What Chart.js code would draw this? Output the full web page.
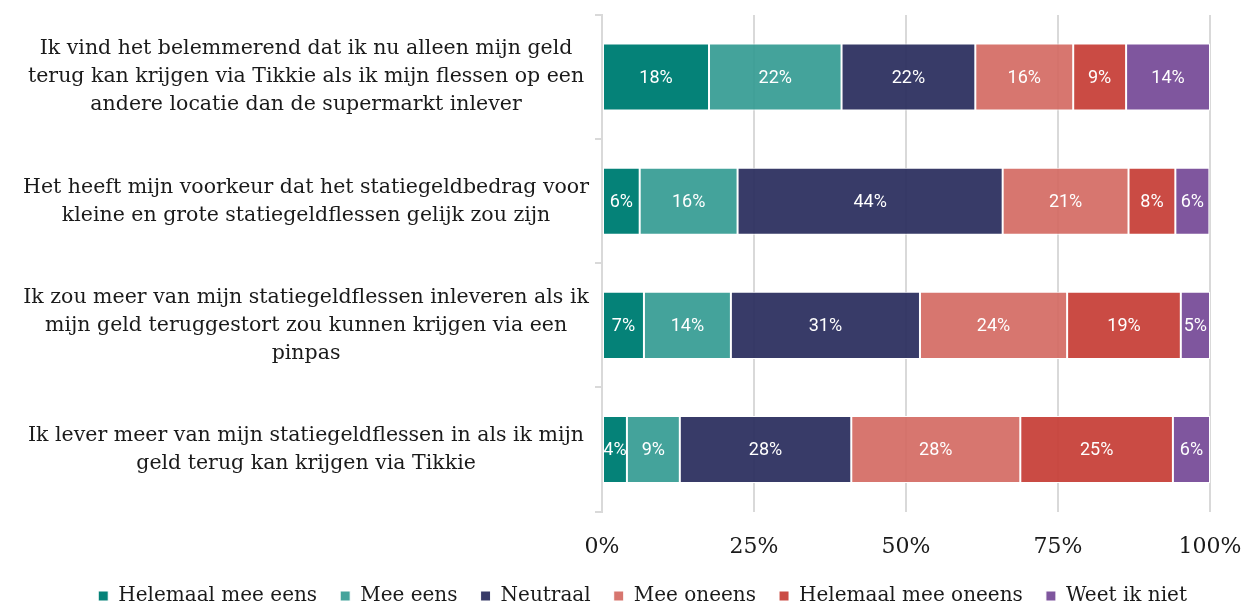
<!DOCTYPE html>
<html>
<head>
<meta charset="utf-8">
<script src="https://cdn.jsdelivr.net/npm/chart.js@4/dist/chart.umd.min.js"></script>
<style>
  html, body { margin: 0; padding: 0; background: #fff; }
  #wrap { width: 1244px; height: 605px; }
</style>
</head>
<body>
<div id="wrap"><canvas id="chart"></canvas></div>
<script>
// statements (category labels, already wrapped)
const statements = [
    ["Ik vind het belemmerend dat ik nu alleen mijn geld", "terug kan krijgen via Tikkie als ik mijn flessen op een", "andere locatie dan de supermarkt inlever"],
    ["Het heeft mijn voorkeur dat het statiegeldbedrag voor", "kleine en grote statiegeldflessen gelijk zou zijn"],
    ["Ik zou meer van mijn statiegeldflessen inleveren als ik", "mijn geld teruggestort zou kunnen krijgen via een", "pinpas"],
    ["Ik lever meer van mijn statiegeldflessen in als ik mijn", "geld terug kan krijgen via Tikkie"]
];

const answers = ["Helemaal mee eens", "Mee eens", "Neutraal", "Mee oneens", "Helemaal mee oneens", "Weet ik niet"];

// percentages per answer, one value per statement
const helemaalMeeEens = [17.6, 6.2, 6.9, 4.1];
const meeEens = [21.8, 16.1, 14.3, 8.7];
const neutraal = [22.0, 43.6, 31.1, 28.2];
const meeOneens = [16.1, 20.7, 24.2, 27.8];
const helemaalMeeOneens = [8.7, 7.7, 18.7, 25.1];
const weetIkNiet = [13.8, 5.6, 4.8, 6.1];

const xTicks = [0, 25, 50, 75, 100];

const colors = [
    "rgba(0,128,117,0.98)",
    "rgba(52,155,147,0.92)",
    "rgba(44,47,95,0.94)",
    "rgba(212,106,99,0.92)",
    "rgba(199,64,56,0.94)",
    "rgba(119,75,152,0.94)"
];

const seriesValues = [helemaalMeeEens, meeEens, neutraal, meeOneens, helemaalMeeOneens, weetIkNiet];

const datasets = answers.map((name, i) => ({
    label: name,
    data: seriesValues[i],
    backgroundColor: colors[i],
    borderColor: "#ffffff",
    borderWidth: 1,
    borderSkipped: false,
    barPercentage: 0.54,
    categoryPercentage: 1
}));

// draw the percentage in the middle of every segment
const segmentLabels = {
    id: "segmentLabels",
    afterDatasetsDraw(chart) {
        const ctx = chart.ctx;
        ctx.save();
        ctx.fillStyle = "#ffffff";
        ctx.font = "18px Roboto";
        ctx.textAlign = "center";
        ctx.textBaseline = "middle";
        chart.data.datasets.forEach((ds, i) => {
            chart.getDatasetMeta(i).data.forEach((bar, j) => {
                const cx = (bar.x + bar.base) / 2;
                ctx.fillText(Math.round(ds.data[j]) + "%", cx, bar.y + 1);
            });
        });
        ctx.restore();
    }
};

const defaultLegendLabels = Chart.defaults.plugins.legend.labels.generateLabels;

new Chart(document.getElementById("chart"), {
    type: "bar",
    data: { labels: statements, datasets: datasets },
    plugins: [segmentLabels],
    options: {
        indexAxis: "y",
        responsive: true,
        maintainAspectRatio: false,
        animation: false,
        layout: { padding: { top: 15, right: 34, bottom: -11, left: 0 } },
        plugins: {
            tooltip: { enabled: false },
            legend: {
                position: "bottom",
                align: "end",
                labels: {
                    boxWidth: 10,
                    boxHeight: 10,
                    padding: 4,
                    color: "#1a1a1a",
                    font: { family: "DejaVu Serif", size: 20 },
                    // trailing spaces give the wider gaps between legend items
                    generateLabels: (chart) => defaultLegendLabels(chart).map(item => {
                        item.text = item.text + "   ";
                        return item;
                    })
                }
            }
        },
        scales: {
            x: {
                stacked: true,
                min: 0,
                max: 100,
                afterBuildTicks: (scale) => { scale.ticks = xTicks.map(v => ({ value: v })); },
                afterFit: (scale) => {
                    scale.paddingLeft = 0;
                    scale.paddingRight = 0;
                },
                border: { display: false },
                grid: { color: "#d9d9d9", lineWidth: 2, drawTicks: false },
                ticks: {
                    padding: 22,
                    color: "#1a1a1a",
                    font: { family: "DejaVu Serif", size: 22 },
                    callback: (v) => v + "%"
                }
            },
            y: {
                stacked: true,
                afterFit: (scale) => {
                    scale.width = 602;
                    scale.paddingTop = 0;
                    scale.paddingBottom = 0;
                },
                border: { display: true, color: "#d9d9d9", width: 2 },
                grid: { offset: true, drawOnChartArea: false, color: "#d9d9d9", lineWidth: 2, tickLength: 7 },
                ticks: {
                    crossAlign: "center",
                    padding: 6,
                    color: "#1a1a1a",
                    font: { family: "DejaVu Serif", size: 20.5, lineHeight: 1.37 }
                }
            }
        }
    }
});
</script>
</body>
</html>
